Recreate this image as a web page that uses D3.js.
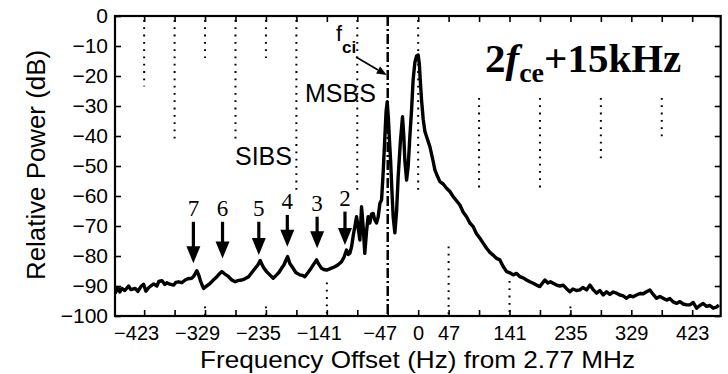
<!DOCTYPE html>
<html>
<head>
<meta charset="utf-8">
<script src="https://cdn.jsdelivr.net/npm/d3@7"></script>
<style>
  body { margin: 0; background: #fff; }
  svg { display: block; }
  text { font-family: "Liberation Sans", Arial, sans-serif; fill: #000; }
</style>
</head>
<body>
<div id="chart"></div>
<script>
// spectrum: frequency offset (Hz) and relative power (dB)
const freqs = [
  -467.8, -463.5, -460.5, -457.4, -452.8, -447.0, -443.5, -436.8, -432.7, -428.1,
  -423.9, -420.3, -415.7, -408.4, -403.4, -400.3, -395.6, -391.0, -388.0, -383.4,
  -377.6, -374.0, -369.9, -364.8, -359.7, -355.6, -349.3, -346.3, -341.7, -338.5,
  -336.5, -333.9, -331.3, -327.8, -321.1, -317.0, -310.7, -306.2, -303.1, -298.4,
  -292.7, -287.6, -282.5, -278.3, -272.2, -267.5, -261.8, -256.7, -251.6, -247.5,
  -243.9, -241.2, -238.2, -234.0, -229.0, -223.8, -218.6, -215.0, -210.9, -207.3,
  -204.3, -201.6, -198.1, -193.0, -188.9, -182.7, -178.1, -175.0, -170.3, -167.2,
  -162.7, -156.8, -153.3, -149.2, -145.6, -141.5, -136.5, -128.7, -124.1, -118.3,
  -114.7, -110.6, -107.8, -105.5, -102.8, -100.1, -97.7, -95.1, -92.7, -90.0,
  -87.4, -85.0, -82.4, -79.8, -77.3, -74.6, -72.0, -69.5, -66.9, -64.3,
  -61.7, -59.1, -56.5, -54.0, -51.4, -49.6, -47.8, -46.0, -44.4, -42.6,
  -40.6, -38.6, -36.0, -33.3, -30.9, -27.5, -24.2, -22.2, -20.6, -17.9,
  -15.4, -12.8, -10.2, -7.8, -5.1, -2.5, 0, 1.8, 3.4, 5.2,
  7.8, 10.4, 13.4, 18.0, 22.7, 25.8, 28.9, 33.5, 38.6, 43.8,
  49.0, 54.0, 58.9, 64.4, 69.8, 74.7, 79.8, 84.9, 89.8, 95.3,
  100.3, 105.6, 110.7, 115.7, 121.1, 126.1, 131.2, 136.5, 141.5, 146.7,
  151.9, 157.0, 162.1, 167.3, 172.4, 177.5, 182.7, 187.9, 192.5, 195.6,
  200.2, 204.1, 208.4, 213.6, 218.8, 223.8, 228.7, 234.2, 238.8, 244.3,
  249.6, 254.2, 260.0, 265.0, 270.1, 275.4, 280.5, 285.6, 290.8, 295.9,
  301.1, 306.2, 311.3, 316.5, 321.7, 326.8, 331.9, 337.1, 342.3, 347.4,
  352.5, 357.7, 362.8, 368.0, 373.1, 378.2, 383.5, 388.6, 393.6, 398.9,
  404.0, 409.1, 414.3, 419.4, 424.6, 429.8, 434.8, 440.0, 445.2, 450.3,
  455.5, 460.7, 464.2
];
const power = [
  -92.5, -90.5, -92.0, -90.8, -91.5, -90.0, -91.2, -90.8, -91.8, -90.2,
  -89.4, -91.7, -90.5, -89.3, -90.0, -88.5, -88.2, -89.5, -88.9, -89.4,
  -89.7, -88.8, -88.6, -88.9, -88.0, -87.6, -87.4, -86.7, -84.9, -86.5,
  -88.0, -89.5, -90.8, -90.2, -89.1, -88.2, -86.9, -85.8, -85.2, -86.0,
  -86.9, -88.0, -88.6, -88.2, -88.0, -87.6, -86.9, -85.5, -84.1, -83.0,
  -81.5, -82.8, -84.0, -85.2, -86.3, -87.4, -86.3, -85.5, -84.1, -83.0,
  -81.5, -80.2, -82.5, -84.1, -85.5, -86.3, -86.5, -86.9, -85.6, -84.7,
  -83.2, -81.3, -82.8, -84.1, -84.5, -84.7, -84.3, -83.6, -83.0, -81.9,
  -80.5, -78.0, -79.5, -79.1, -76.9, -73.0, -70.2, -66.9, -70.5, -74.7,
  -63.6, -70.0, -79.1, -72.0, -66.9, -69.0, -66.0, -65.8, -68.0, -69.0,
  -66.9, -62.4, -61.3, -52.0, -40.2, -32.0, -28.6, -34.0, -41.0, -48.0,
  -58.0, -66.9, -72.3, -65.0, -53.6, -42.0, -33.6, -40.0, -48.0, -54.7,
  -50.0, -40.0, -31.3, -21.3, -15.5, -13.3, -13.0, -16.0, -22.0, -28.0,
  -34.5, -38.5, -40.5, -43.5, -48.0, -51.3, -53.0, -55.2, -56.0, -57.4,
  -58.5, -60.2, -61.5, -63.0, -65.5, -66.9, -69.0, -70.2, -72.5, -74.1,
  -75.7, -77.4, -78.8, -79.7, -80.8, -81.3, -83.5, -85.2, -85.6, -86.3,
  -85.8, -86.9, -87.3, -88.0, -88.6, -89.1, -89.7, -90.2, -88.8, -88.0,
  -89.0, -88.6, -89.1, -89.7, -90.0, -89.7, -90.8, -91.9, -91.0, -91.5,
  -91.3, -90.5, -91.3, -89.7, -91.2, -92.4, -91.5, -93.0, -91.9, -92.8,
  -92.0, -92.4, -93.0, -93.3, -94.1, -93.2, -93.6, -93.0, -92.5, -92.6,
  -91.9, -91.3, -92.8, -94.1, -93.5, -94.1, -94.7, -94.2, -95.3, -95.8,
  -95.2, -96.0, -96.3, -96.3, -95.5, -97.4, -96.5, -95.8, -96.8, -96.5,
  -97.4, -97.0, -96.3
];

const xTickValues = [-423, -376, -329, -282, -235, -188, -141, -94, -47, 0, 47, 94, 141, 188, 235, 282, 329, 376, 423];
const xTickLabels = [-423, -329, -235, -141, -47, 0, 47, 141, 235, 329, 423];
const yTickValues = [0, -10, -20, -30, -40, -50, -60, -70, -80, -90, -100];

// harmonic markers (order, frequency, arrow top / tip in dB)
const harmonicOrders = [7, 6, 5, 4, 3, 2];
const harmonicFreqs = [-347, -302, -246, -202, -156, -113];
const arrowTopDb = [-68.6, -68.6, -68.6, -66.3, -66.9, -65.2];
const arrowTipDb = [-82.4, -80.8, -79.7, -76.9, -77.4, -76.3];

// dotted guide segments
const guideFreqs = [-423, -376, -329, -282, -235, -188, -94, 0, 94, 188, 282, 376, -141, 47, 141, 235, -329, -235];
const guideTopDb = [0, 0, 0, 0, 0, 0, 0, 0, -26, -26, -26, -26, -87.5, -75.5, -87, -95.5, -95.5, -95.5];
const guideBottomDb = [-23.5, -41, -14, -41, -14, -58, -58, -58, -58, -58, -48, -41, -100, -100, -100, -100, -100, -100];

const fciFreq = -47;

const width = 728, height = 374;
const margin = { top: 16, right: 7.3, bottom: 58, left: 115 };

const svg = d3.select("#chart").append("svg")
  .attr("width", width)
  .attr("height", height);

const x = d3.scaleLinear().domain([-468, 467]).range([margin.left, width - margin.right]);
const y = d3.scaleLinear().domain([-100, 0]).range([height - margin.bottom, margin.top]);

const plotW = width - margin.right - margin.left;
const plotH = height - margin.bottom - margin.top;

svg.append("defs").append("clipPath").attr("id", "plot")
  .append("rect")
  .attr("x", margin.left).attr("y", margin.top)
  .attr("width", plotW).attr("height", plotH);

// dotted guides
svg.append("g")
  .selectAll("line")
  .data(guideFreqs)
  .join("line")
  .attr("x1", d => x(d)).attr("x2", d => x(d))
  .attr("y1", (d, i) => y(guideTopDb[i]) + 4)
  .attr("y2", (d, i) => y(guideBottomDb[i]))
  .attr("stroke", "#000")
  .attr("stroke-width", 2)
  .attr("stroke-dasharray", "1.8,5.5");

// f_ci dash-dot line
svg.append("line")
  .attr("x1", x(fciFreq)).attr("x2", x(fciFreq))
  .attr("y1", y(0)).attr("y2", y(-100))
  .attr("stroke", "#000")
  .attr("stroke-width", 2.5)
  .attr("stroke-dasharray", "10,3,2,3");

// spectrum
const line = d3.line()
  .x((d, i) => x(freqs[i]))
  .y(d => y(d));

svg.append("path")
  .datum(power)
  .attr("clip-path", "url(#plot)")
  .attr("fill", "none")
  .attr("stroke", "#000")
  .attr("stroke-width", 3.4)
  .attr("stroke-linejoin", "round")
  .attr("d", line);

// axes
const fmt = d3.format("d");
const xAxis = svg.append("g")
  .attr("transform", `translate(0,${y(-100)})`)
  .call(d3.axisBottom(x).tickValues(xTickValues).tickSize(-6).tickSizeOuter(0).tickPadding(10)
    .tickFormat(d => xTickLabels.includes(d) ? fmt(d) : ""));
xAxis.selectAll("text")
  .attr("dx", d => d < 0 ? -8 : 0)
  .style("font-size", "20px");

svg.append("g")
  .attr("transform", `translate(0,${y(0)})`)
  .call(d3.axisTop(x).tickValues(xTickValues).tickSize(-6).tickSizeOuter(0).tickFormat(""));

svg.append("g")
  .attr("transform", `translate(${margin.left},0)`)
  .call(d3.axisLeft(y).tickValues(yTickValues).tickSize(-6).tickSizeOuter(0).tickPadding(7).tickFormat(fmt))
  .selectAll("text").style("font-size", "21px");

svg.append("g")
  .attr("transform", `translate(${width - margin.right},0)`)
  .call(d3.axisRight(y).tickValues(yTickValues).tickSize(-6).tickSizeOuter(0).tickFormat(""));

svg.selectAll(".domain").remove();
svg.selectAll(".tick line").attr("stroke", "#000").attr("stroke-width", 1.6);

svg.append("rect")
  .attr("x", margin.left).attr("y", margin.top)
  .attr("width", plotW).attr("height", plotH)
  .attr("fill", "none")
  .attr("stroke", "#000")
  .attr("stroke-width", 2.2);

// axis titles
svg.append("text")
  .attr("x", 417.5).attr("y", 368)
  .attr("text-anchor", "middle")
  .attr("textLength", 435)
  .attr("lengthAdjust", "spacingAndGlyphs")
  .style("font-size", "24px")
  .text("Frequency Offset (Hz) from 2.77 MHz");

svg.append("text")
  .attr("transform", "translate(45,165) rotate(-90)")
  .attr("text-anchor", "middle")
  .attr("textLength", 230)
  .attr("lengthAdjust", "spacingAndGlyphs")
  .style("font-size", "26px")
  .text("Relative Power (dB)");

// harmonic arrows
const arrows = svg.append("g");
harmonicOrders.forEach((n, i) => {
  const ax = x(harmonicFreqs[i]);
  const top = y(arrowTopDb[i]);
  const tip = y(arrowTipDb[i]);
  arrows.append("line")
    .attr("x1", ax).attr("x2", ax)
    .attr("y1", top).attr("y2", tip - 14)
    .attr("stroke", "#000").attr("stroke-width", 3.2);
  arrows.append("path")
    .attr("d", `M${ax - 7},${tip - 17} L${ax + 7},${tip - 17} L${ax},${tip} Z`)
    .attr("fill", "#000");
  arrows.append("text")
    .attr("x", ax).attr("y", top - 6)
    .attr("text-anchor", "middle")
    .style("font-family", "'Liberation Serif', 'Times New Roman', serif")
    .style("font-size", "23px")
    .text(n);
});

// labels
svg.append("text").attr("x", 235).attr("y", 165).style("font-size", "25px").text("SIBS");
svg.append("text").attr("x", 305).attr("y", 102).style("font-size", "25px").text("MSBS");

// f_ci label and arrow
svg.append("text").attr("x", 336).attr("y", 41).style("font-size", "22px").text("f");
svg.append("text").attr("x", 342).attr("y", 53).style("font-size", "17px").style("font-weight", "bold").text("ci");
const fx0 = 356, fy0 = 57;
const fx1 = x(fciFreq) - 1, fy1 = 75;
const ang = Math.atan2(fy1 - fy0, fx1 - fx0);
const hl = 10, hw = 4;
const bx = fx1 - hl * Math.cos(ang), by = fy1 - hl * Math.sin(ang);
svg.append("line")
  .attr("x1", fx0).attr("y1", fy0).attr("x2", bx).attr("y2", by)
  .attr("stroke", "#000").attr("stroke-width", 1.6);
svg.append("path")
  .attr("d", `M${fx1},${fy1} L${bx - hw * Math.sin(ang)},${by + hw * Math.cos(ang)} L${bx + hw * Math.sin(ang)},${by - hw * Math.cos(ang)} Z`)
  .attr("fill", "#000");

// panel title
const title = svg.append("text")
  .attr("x", 485).attr("y", 72)
  .style("font-family", "'Liberation Serif', 'Times New Roman', serif")
  .style("font-weight", "bold")
  .style("font-size", "41px");
title.append("tspan").text("2");
title.append("tspan").style("font-style", "italic").text("f");
title.append("tspan").attr("dy", 10).style("font-size", "28px").text("ce");
title.append("tspan").attr("dy", -10).text("+15kHz");
</script>
</body>
</html>
